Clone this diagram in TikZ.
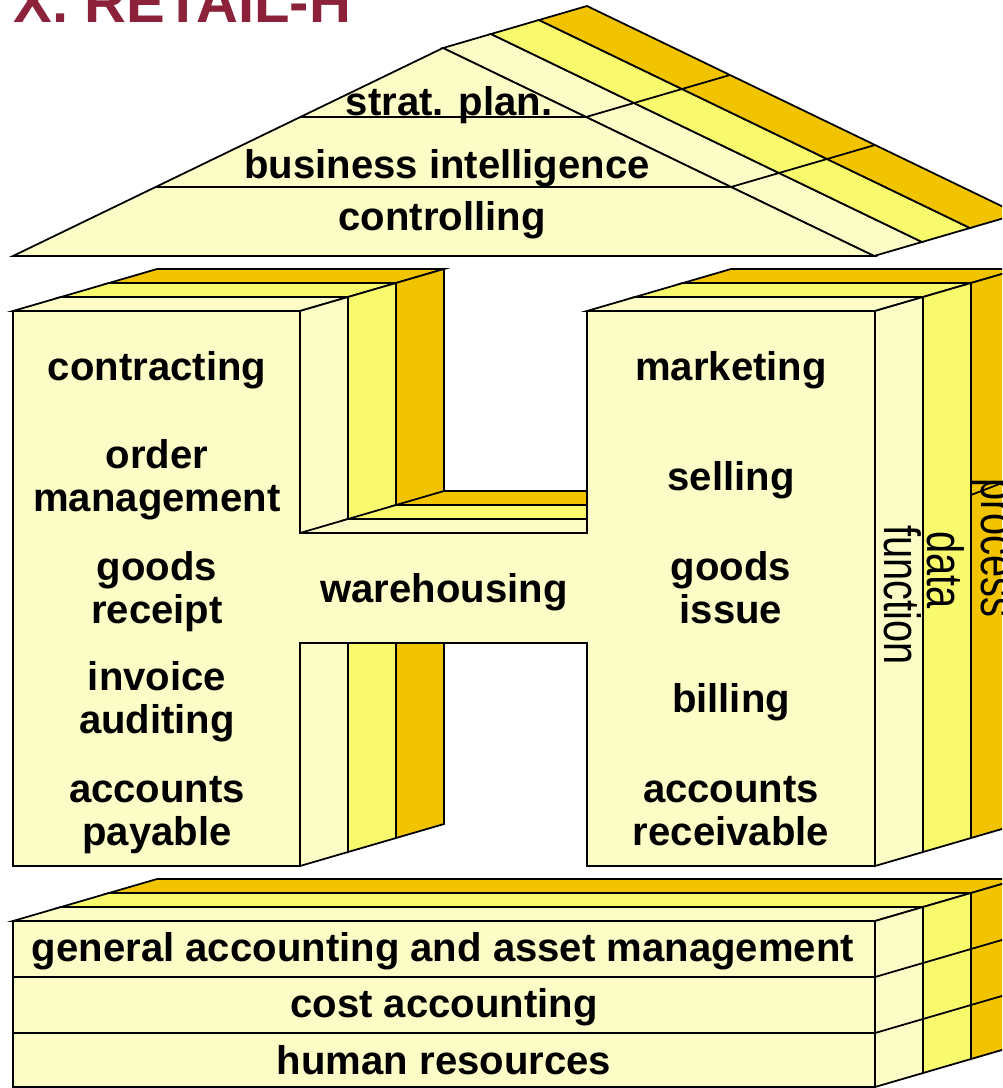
\documentclass[tikz,border=0pt]{standalone}
\usepackage{fontspec}
\setmainfont{Liberation Sans}
\usetikzlibrary{calc}
\definecolor{fnyellow}{RGB}{252,252,198}
\definecolor{datayellow}{RGB}{249,249,110}
\definecolor{procgold}{RGB}{242,196,0}
\definecolor{titlered}{RGB}{139,34,58}
\def\slabface[#1](#2)(#3)(#4){\draw[fill=#1] ($(#2)+#4*(48,-14)$) -- ($(#3)+#4*(48,-14)$) -- ($(#3)+#4*(48,-14)+(48,-14)$) -- ($(#2)+#4*(48,-14)+(48,-14)$) -- cycle;}

\begin{document}
\begin{tikzpicture}[x=0.01cm,y=-0.01cm,line width=0.5pt,
	housetext/.style={font=\fontsize{11.4}{12}\selectfont\bfseries,align=center,anchor=base,inner sep=0pt},
	sidetext/.style={font=\fontsize{14.5}{15}\selectfont,rotate=-90,inner sep=0pt}]
			\useasboundingbox (0,0) rectangle (1002,1088);
			\clip (0,0) rectangle (1002,1088);
			%%%%% TITLE %%%%%
			\node[anchor=base east,inner sep=0pt,text=titlered,font=\fontsize{16.5}{18}\selectfont\bfseries] (title) at (352,23) {X. RETAIL-H};
			
			%%%%% ROOF %%%%%
			\foreach \k/\col in {0/fnyellow,1/datayellow,2/procgold}{\slabface[\col](443,48)(874,256)(\k)}
			\draw (586,117) -- ++(144,-42);
			\draw (731,187) -- ++(144,-42);
			\draw[fill=fnyellow] (13,256) -- (874,256) -- (443,48) -- cycle;
			\draw (300,117) -- (586,117);
			\draw (156,187) -- (731,187);
			\node[housetext] (strat) at (449,116) {strat. plan.};
			\node[housetext] (bi) at (447,179) {business intelligence};
			\node[housetext] (ctrl) at (442,231) {controlling};
			
			%%%%% H %%%%%
			\foreach \k/\col in {0/fnyellow,1/datayellow,2/procgold}{
				\slabface[\col](13,311)(300,311)(\k)
				\slabface[\col](300,311)(300,866)(\k)
				\slabface[\col](587,311)(875,311)(\k)
				\slabface[\col](875,311)(875,866)(\k)
			}
			\foreach \k/\col in {0/fnyellow,1/datayellow,2/procgold}{\slabface[\col](300,533)(587,533)(\k)}
			\draw[fill=fnyellow] (13,311) -- (300,311) -- (300,533) -- (587,533) -- (587,311) -- (875,311) -- (875,866) -- (587,866) -- (587,643) -- (300,643) -- (300,866) -- (13,866) -- cycle;
			\draw (971,495) -- (1002,483);
			
			\node[housetext] (contr) at (157,380) {contracting};
			\node[housetext] (order) at (157,511) {order\\management};
			\node[housetext] (receipt) at (157,623) {goods\\receipt};
			\node[housetext] (invoice) at (157,733) {invoice\\auditing};
			\node[housetext] (payable) at (157,845) {accounts\\payable};
			\node[housetext] (wh) at (444,602) {warehousing};
			\node[housetext] (mkt) at (731,380) {marketing};
			\node[housetext] (sell) at (731,490) {selling};
			\node[housetext] (issue) at (731,623) {goods\\issue};
			\node[housetext] (bill) at (731,712) {billing};
			\node[housetext] (recv) at (731,845) {accounts\\receivable};
			
			\node[sidetext] (fn) at (903,595) {\scalebox{0.78}[1]{function}};
			\node[sidetext] (dt) at (946,570) {\scalebox{0.78}[1]{data}};
			\node[sidetext] (pr) at (990,548) {\scalebox{0.78}[1]{process}};
			
			%%%%% BASE %%%%%
			\foreach \k/\col in {0/fnyellow,1/datayellow,2/procgold}{
				\slabface[\col](13,921)(875,921)(\k)
				\slabface[\col](875,921)(875,1087)(\k)
			}
			\draw[fill=fnyellow] (13,921) rectangle (875,1087);
			\draw (13,977) -- (875,977) -- ++(144,-42);
			\draw (13,1033) -- (875,1033) -- ++(144,-42);
			\node[housetext] (gen) at (443,961) {general accounting and asset management};
			\node[housetext] (cost) at (444,1017) {cost accounting};
			\node[housetext] (hr) at (444,1074) {human resources};
			%%%%% END %%%%%
\end{tikzpicture}
\end{document}
